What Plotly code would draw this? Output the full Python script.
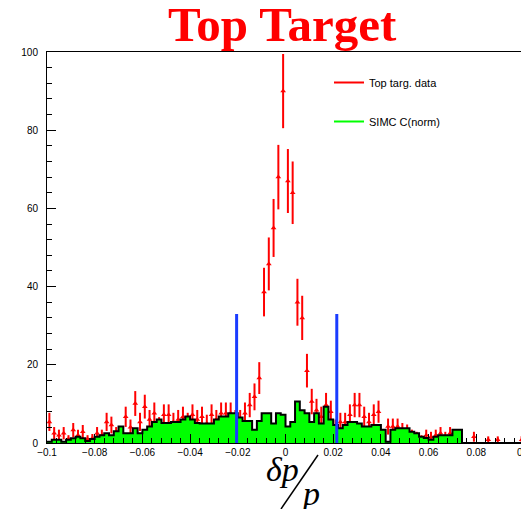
import numpy as np
import plotly.graph_objects as go

# ---- data -----------------------------------------------------------------
bin_edges = np.linspace(-0.1, 0.1, 101)          # 100 bins of width 0.002
bin_centers = 0.5 * (bin_edges[:-1] + bin_edges[1:])

# measured data ("Top targ. data"), counts per bin
data_counts = [
    5.4, 2.5, 2.0, 2.5, 1.0, 3.3, 2.0, 2.9, 1.0, 1.2,
    2.5, 2.0, 5.4, 4.6, 2.5, 2.0, 6.7, 4.0, 10.1, 5.4,
    9.3, 6.0, 7.6, 4.5, 7.2, 7.2, 5.4, 6.0, 6.7, 5.4,
    7.2, 6.0, 6.7, 5.0, 7.2, 6.0, 7.6, 7.6, 7.6, 6.0,
    6.0, 7.6, 9.7, 11.8, 16.6, 38.6, 45.8, 55.0, 68.0, 90.0,
    67.0, 64.0, 36.0, 32.0, 18.5, 10.6, 8.4, 6.7, 9.7, 8.0,
    4.0, 5.4, 5.4, 7.2, 9.7, 9.7, 6.7, 5.4, 7.2, 8.0,
    2.0, 4.2, 4.2, 4.2, 3.3, 3.0, 2.0, 1.6, 1.0, 2.0,
    1.6, 2.0, 2.5, 1.6, 2.5, 0.0, 0.0, 0.0, 0.0, 1.6,
    0.0, 0.0, 0.8, 0.0, 0.8, 0.0, 0.0, 0.0, 0.0, 0.8,
]

# simulation ("SIMC C(norm)"), normalised counts per bin
simc_counts = [
    0.3, 0.8, 0.8, 0.3, 0.8, 1.2, 1.6, 1.2, 0.5, 1.0,
    1.6, 2.0, 2.5, 2.0, 3.0, 4.2, 2.5, 2.5, 3.8, 2.5,
    3.4, 4.2, 5.4, 6.0, 5.1, 5.1, 5.4, 5.4, 6.0, 6.8,
    6.0, 5.1, 5.0, 5.0, 5.0, 6.0, 6.8, 6.8, 7.6, 7.6,
    6.5, 5.6, 5.6, 3.4, 5.6, 7.6, 7.6, 5.0, 7.6, 7.2,
    4.2, 5.4, 10.6, 8.4, 7.6, 5.4, 7.6, 5.0, 9.3, 6.0,
    4.6, 3.8, 4.6, 5.4, 5.4, 5.0, 4.2, 4.2, 4.6, 4.6,
    3.4, 0.3, 3.4, 3.8, 3.8, 3.8, 2.9, 2.5, 1.6, 1.3,
    0.8, 1.6, 2.0, 2.0, 2.0, 3.4, 3.4, 0.0, 0.0, 0.0,
    0.0, 0.0, 0.0, 0.0, 0.0, 0.0, 0.0, 0.0, 0.0, 0.0,
]

cut_positions = [-0.0205, 0.0215]
cut_height = 33

x_ticks = [-0.1, -0.08, -0.06, -0.04, -0.02, 0, 0.02, 0.04, 0.06, 0.08, 0.1]
x_tick_labels = ["\u22120.1", "\u22120.08", "\u22120.06", "\u22120.04", "\u22120.02",
                 "0", "0.02", "0.04", "0.06", "0.08", "0.1"]
y_ticks = [0, 20, 40, 60, 80, 100]

# ---- figure ---------------------------------------------------------------
OFF = 8                      # browser body margin offset
W, H = 529 - OFF, 509 - OFF
ML, MR, MT, MB = 47 - OFF, 5, 52 - OFF, 66

dc = np.array(data_counts)
mask = dc > 0
dx = bin_centers[mask]
dy = dc[mask]
derr = np.sqrt(dy)

fig = go.Figure()

# data with error bars
fig.add_trace(go.Scatter(
    x=dx, y=dy, mode="markers",
    marker=dict(symbol="triangle-up", size=5, color="#ff0000"),
    error_y=dict(type="data", array=derr, visible=True,
                 color="#ff0000", thickness=2, width=0),
    showlegend=False, hoverinfo="x+y",
))

# SIMC histogram (step, filled)
hx = list(bin_edges)
hy = list(simc_counts) + [simc_counts[-1]]
fig.add_trace(go.Scatter(
    x=hx, y=hy, mode="lines", line_shape="hv",
    line=dict(color="black", width=2),
    fill="tozeroy", fillcolor="#00ff00",
    showlegend=False, hoverinfo="skip",
))

# legend-only entries (line style like the ROOT legend)
fig.add_trace(go.Scatter(x=[None], y=[None], mode="lines",
                         line=dict(color="#ff0000", width=2),
                         name="Top targ. data", legendgroup="a"))
fig.add_trace(go.Scatter(x=[None], y=[None], mode="lines",
                         line=dict(color="#00ff00", width=2),
                         name="SIMC C(norm)", legendgroup="b"))

# cut lines
for xc in cut_positions:
    fig.add_shape(type="line", xref="x", yref="y",
                  x0=xc, x1=xc, y0=0, y1=cut_height,
                  line=dict(color="#1a3cff", width=3), layer="above")

pw = W - ML - MR
ph = H - MT - MB
def px_x(p):                 # screen px -> paper x
    return (p - OFF - ML) / pw
def px_y(p):                 # screen px -> paper y
    return (H - MB - (p - OFF)) / ph

# title
fig.add_annotation(text="<b>Top Target</b>", xref="paper", yref="paper",
                   x=px_x(282), y=1.0,
                   xanchor="center", yanchor="bottom", yshift=-2,
                   showarrow=False,
                   font=dict(family="Liberation Serif", size=49, color="#ff0000"))

# axis title  δp / p
fig.add_annotation(text="<i>\u03b4p</i>", xref="paper", yref="paper",
                   x=px_x(282), y=px_y(469), xanchor="center", yanchor="middle",
                   showarrow=False,
                   font=dict(family="Liberation Serif", size=34, color="black"))
fig.add_annotation(text="<i>p</i>", xref="paper", yref="paper",
                   x=px_x(310), y=px_y(494), xanchor="center", yanchor="middle",
                   showarrow=False,
                   font=dict(family="Liberation Serif", size=34, color="black"))
fig.add_shape(type="line", xref="paper", yref="paper",
              x0=px_x(318), y0=px_y(455), x1=px_x(281), y1=px_y(509),
              line=dict(color="black", width=1.5))

axis_font = dict(family="Liberation Sans, Arial", size=10, color="black")

fig.update_xaxes(
    range=[-0.1, 0.1], tickmode="array", tickvals=x_ticks, ticktext=x_tick_labels,
    ticks="inside", ticklen=9, tickwidth=1, tickcolor="black",
    minor=dict(dtick=0.004, tick0=-0.1, ticks="inside", ticklen=5,
               tickcolor="black", tickwidth=1),
    showline=True, linecolor="black", linewidth=1, mirror=True,
    showgrid=False, zeroline=False, tickfont=axis_font, automargin=False,
    ticklabeloverflow="allow",
)
fig.update_yaxes(
    range=[0, 100], tickmode="array", tickvals=y_ticks,
    ticks="inside", ticklen=9, tickwidth=1, tickcolor="black",
    minor=dict(dtick=4, tick0=0, ticks="inside", ticklen=5,
               tickcolor="black", tickwidth=1),
    showline=True, linecolor="black", linewidth=1, mirror=True,
    showgrid=False, zeroline=False, tickfont=axis_font, automargin=False,
    ticklabelstandoff=6,
)

fig.update_layout(
    width=W, height=H,
    margin=dict(l=ML, r=MR, t=MT, b=MB, pad=0, autoexpand=False),
    paper_bgcolor="white", plot_bgcolor="white",
    showlegend=True,
    legend=dict(x=px_x(329), y=px_y(68), xanchor="left", yanchor="top",
                bgcolor="rgba(0,0,0,0)", borderwidth=0,
                font=dict(family="Liberation Sans, Arial", size=11, color="black"),
                tracegroupgap=20, itemwidth=30),
)

fig.write_html("out.html")
